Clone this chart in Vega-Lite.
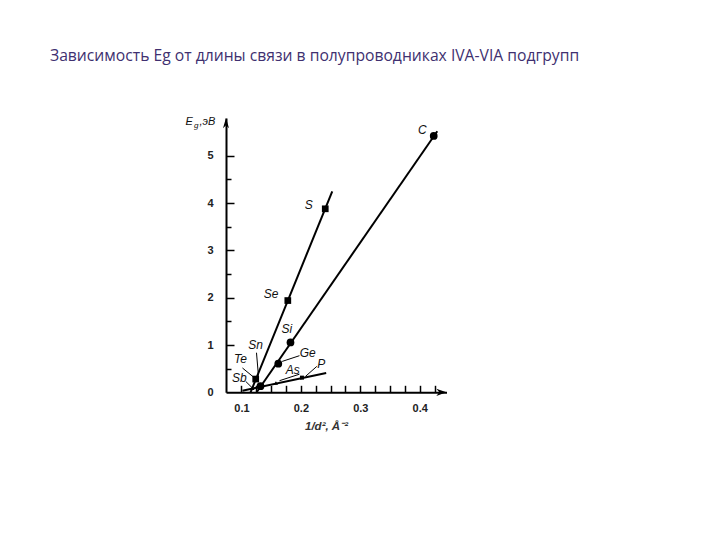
{
  "$schema": "https://vega.github.io/schema/vega-lite/v6.json",
  "autosize": {"type": "none"},
  "width": 220.5,
  "height": 274.3,
  "padding": {"left": 226, "top": 118, "right": 273, "bottom": 148},
  "background": "white",
  "config": {"view": {"stroke": null}},
  "title": {
    "text": "Зависимость Eg от длины связи в полупроводниках IVA-VIA подгрупп",
    "anchor": "start",
    "frame": "group",
    "dx": -176,
    "offset": 39,
    "font": "Open Sans",
    "fontSize": 15.7,
    "fontWeight": "normal",
    "color": "#403070",
    "baseline": "alphabetic"
  },
  "resolve": {"axis": {"x": "independent", "y": "independent"}},
  "datasets": {
    "lines": [
      {"group": "VI", "x": 0.1153, "y": 0.0},
      {"group": "VI", "x": 0.2528, "y": 4.25},
      {"group": "IV", "x": 0.1256, "y": 0.0},
      {"group": "IV", "x": 0.4295, "y": 5.52},
      {"group": "V", "x": 0.1017, "y": 0.034},
      {"group": "V", "x": 0.2426, "y": 0.408}
    ],
    "elements": [
      {"el": "C", "kind": "circle", "x": 0.4235, "y": 5.42, "lx": 0.4042, "ly": 5.55},
      {"el": "S", "kind": "square", "x": 0.241, "y": 3.88, "lx": 0.2133, "ly": 3.97},
      {"el": "Se", "kind": "square", "x": 0.178, "y": 1.94, "lx": 0.15, "ly": 2.085},
      {"el": "Si", "kind": "circle", "x": 0.1825, "y": 1.055, "lx": 0.1763, "ly": 1.345},
      {"el": "Sn", "kind": "circle", "x": 0.132, "y": 0.13, "lx": 0.1236, "ly": 1.006},
      {"el": "Ge", "kind": "circle", "x": 0.162, "y": 0.605, "lx": 0.2116, "ly": 0.83},
      {"el": "P", "kind": "smallsquare", "x": 0.2018, "y": 0.31, "lx": 0.2342, "ly": 0.598},
      {"el": "As", "kind": "triangle", "x": 0.158, "y": 0.197, "lx": 0.1864, "ly": 0.478},
      {"el": "Te", "kind": "square", "x": 0.124, "y": 0.28, "lx": 0.0983, "ly": 0.704},
      {"el": "Sb", "kind": "triangle", "x": 0.1185, "y": 0.09, "lx": 0.0966, "ly": 0.302}
    ],
    "leaders": [
      {"el": "Sn", "x": 0.1253, "y": 0.837, "x2": 0.1286, "y2": 0.351},
      {"el": "Te", "x": 0.1017, "y": 0.514, "x2": 0.1202, "y2": 0.323},
      {"el": "Sb", "x": 0.1072, "y": 0.23, "x2": 0.1185, "y2": 0.09},
      {"el": "Ge", "x": 0.1976, "y": 0.774, "x2": 0.1685, "y2": 0.653},
      {"el": "P", "x": 0.2268, "y": 0.548, "x2": 0.2077, "y2": 0.336},
      {"el": "As", "x": 0.1976, "y": 0.383, "x2": 0.164, "y2": 0.245}
    ],
    "arrows": [
      {"dir": "up", "x": 0.074, "y": 5.8},
      {"dir": "right", "x": 0.445, "y": 0}
    ],
    "ytitle": [
      {"part": "E", "x": 0.0122, "y": 5.72},
      {"part": "g", "x": 0.0238, "y": 5.63},
      {"part": ",эВ", "x": 0.0293, "y": 5.72}
    ]
  },
  "layer": [
    {
      "data": {"name": "lines"},
      "mark": {"type": "line", "color": "#000", "strokeWidth": 2},
      "encoding": {
        "x": {
          "field": "x", "type": "quantitative",
          "scale": {"domain": [0.074, 0.445], "nice": false, "zero": false},
          "axis": {
            "orient": "bottom",
            "values": [0.1, 0.2, 0.3, 0.4],
            "format": ".1f",
            "grid": false,
            "domainColor": "#000", "domainWidth": 2,
            "ticks": false, "tickSize": 0,
            "labelPadding": 10,
            "labelFont": "Liberation Sans", "labelFontSize": 11, "labelFontWeight": "bold", "labelColor": "#222",
            "title": "1/d², Å⁻²",
            "titleFont": "Liberation Sans", "titleFontSize": 11.5, "titleFontStyle": "italic", "titleFontWeight": "bold", "titleColor": "#333",
            "titleX": 100, "titleY": 34, "titleBaseline": "middle"
          }
        },
        "y": {
          "field": "y", "type": "quantitative",
          "scale": {"domain": [0, 5.8], "nice": false, "zero": false},
          "axis": {
            "orient": "left",
            "values": [0, 1, 2, 3, 4, 5],
            "format": "d",
            "grid": false,
            "domainColor": "#000", "domainWidth": 2,
            "ticks": false, "tickSize": 0,
            "labelPadding": 13,
            "labelFont": "Liberation Sans", "labelFontSize": 11, "labelFontWeight": "bold", "labelColor": "#222",
            "title": null
          }
        },
        "detail": {"field": "group"}
      }
    },
    {
      "data": {"name": "leaders"},
      "mark": {"type": "rule", "color": "#000", "strokeWidth": 1},
      "encoding": {
        "x": {"field": "x", "type": "quantitative",
          "axis": {
            "orient": "bottom", "offset": -7,
            "values": [0.1, 0.125, 0.15, 0.175, 0.2, 0.225, 0.25, 0.275, 0.3, 0.325, 0.35, 0.375, 0.4, 0.425],
            "domain": false, "labels": false, "grid": false, "title": null,
            "ticks": true, "tickSize": 7, "tickColor": "#000", "tickWidth": 1.5
          }
        },
        "y": {"field": "y", "type": "quantitative",
          "axis": {
            "orient": "left", "offset": -8,
            "values": [1, 2, 3, 4, 5],
            "domain": false, "labels": false, "grid": false, "title": null,
            "ticks": true, "tickSize": 8, "tickColor": "#000", "tickWidth": 1.5
          }
        },
        "x2": {"field": "x2"},
        "y2": {"field": "y2"}
      }
    },
    {
      "data": {"name": "elements"},
      "transform": [{"filter": "datum.kind == 'circle'"}],
      "mark": {"type": "point", "shape": "circle", "filled": true, "color": "#000", "size": 60, "opacity": 1},
      "encoding": {
        "x": {"field": "x", "type": "quantitative", "axis": null},
        "y": {"field": "y", "type": "quantitative",
          "axis": {
            "orient": "left", "offset": -5,
            "values": [0.5, 1.5, 2.5, 3.5, 4.5],
            "domain": false, "labels": false, "grid": false, "title": null,
            "ticks": true, "tickSize": 5, "tickColor": "#000", "tickWidth": 1.5
          }
        }
      }
    },
    {
      "data": {"name": "elements"},
      "transform": [{"filter": "datum.kind == 'square'"}],
      "mark": {"type": "point", "shape": "square", "filled": true, "color": "#000", "size": 45, "opacity": 1},
      "encoding": {
        "x": {"field": "x", "type": "quantitative", "axis": null},
        "y": {"field": "y", "type": "quantitative", "axis": null}
      }
    },
    {
      "data": {"name": "elements"},
      "transform": [{"filter": "datum.kind == 'smallsquare'"}],
      "mark": {"type": "point", "shape": "square", "filled": true, "color": "#000", "size": 16, "opacity": 1},
      "encoding": {
        "x": {"field": "x", "type": "quantitative", "axis": null},
        "y": {"field": "y", "type": "quantitative", "axis": null}
      }
    },
    {
      "data": {"name": "elements"},
      "transform": [{"filter": "datum.kind == 'triangle'"}],
      "mark": {"type": "point", "shape": "triangle-up", "filled": true, "color": "#000", "size": 18, "opacity": 1},
      "encoding": {
        "x": {"field": "x", "type": "quantitative", "axis": null},
        "y": {"field": "y", "type": "quantitative", "axis": null}
      }
    },
    {
      "data": {"name": "elements"},
      "mark": {"type": "text", "font": "Liberation Sans", "fontSize": 12, "fontStyle": "italic", "color": "#111", "align": "center", "baseline": "middle"},
      "encoding": {
        "x": {"field": "lx", "type": "quantitative", "axis": null},
        "y": {"field": "ly", "type": "quantitative", "axis": null},
        "text": {"field": "el"}
      }
    },
    {
      "data": {"name": "arrows"},
      "transform": [{"filter": "datum.dir == 'up'"}],
      "mark": {"type": "point", "shape": "M0,0L-0.5,1.7L0,1.2L0.5,1.7Z", "filled": true, "color": "#000", "size": 144, "opacity": 1},
      "encoding": {
        "x": {"field": "x", "type": "quantitative", "axis": null},
        "y": {"field": "y", "type": "quantitative", "axis": null}
      }
    },
    {
      "data": {"name": "arrows"},
      "transform": [{"filter": "datum.dir == 'right'"}],
      "mark": {"type": "point", "shape": "M0,0L-1.7,-0.6L-1.2,0L-1.7,0.6Z", "filled": true, "color": "#000", "size": 144, "opacity": 1},
      "encoding": {
        "x": {"field": "x", "type": "quantitative", "axis": null},
        "y": {"field": "y", "type": "quantitative", "axis": null}
      }
    },
    {
      "data": {"name": "ytitle"},
      "transform": [{"filter": "datum.part == 'E'"}],
      "mark": {"type": "text", "font": "Liberation Sans", "fontSize": 11, "fontStyle": "italic", "color": "#111", "align": "center", "baseline": "middle"},
      "encoding": {
        "x": {"field": "x", "type": "quantitative", "axis": null},
        "y": {"field": "y", "type": "quantitative", "axis": null},
        "text": {"field": "part"}
      }
    },
    {
      "data": {"name": "ytitle"},
      "transform": [{"filter": "datum.part == 'g'"}],
      "mark": {"type": "text", "font": "Liberation Sans", "fontSize": 8, "fontStyle": "italic", "color": "#111", "align": "center", "baseline": "middle"},
      "encoding": {
        "x": {"field": "x", "type": "quantitative", "axis": null},
        "y": {"field": "y", "type": "quantitative", "axis": null},
        "text": {"field": "part"}
      }
    },
    {
      "data": {"name": "ytitle"},
      "transform": [{"filter": "datum.part == ',эВ'"}],
      "mark": {"type": "text", "font": "Liberation Sans", "fontSize": 11, "fontStyle": "italic", "color": "#111", "align": "left", "baseline": "middle"},
      "encoding": {
        "x": {"field": "x", "type": "quantitative", "axis": null},
        "y": {"field": "y", "type": "quantitative", "axis": null},
        "text": {"field": "part"}
      }
    }
  ]
}
